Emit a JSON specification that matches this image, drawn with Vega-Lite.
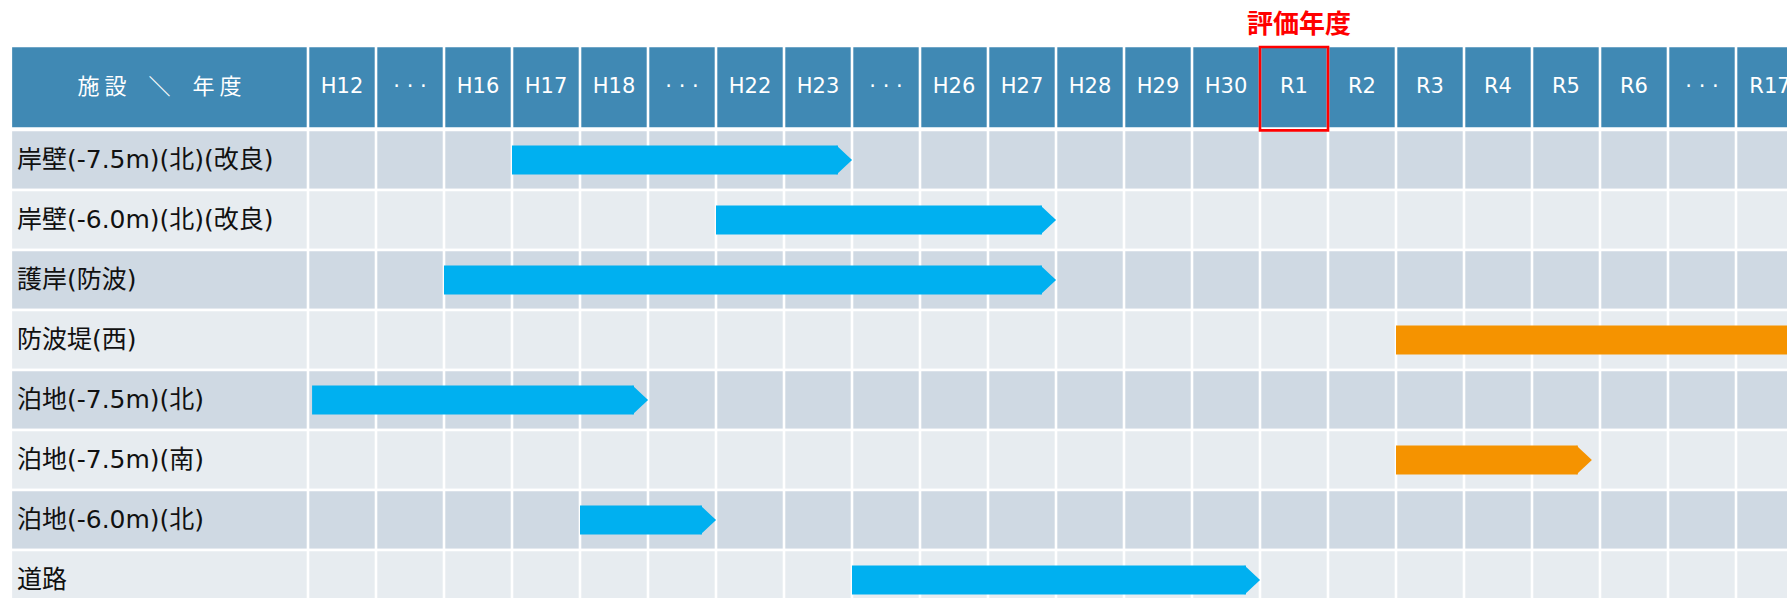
{
  "$schema": "https://vega.github.io/schema/vega-lite/v6.json",
  "width": 1787,
  "height": 598,
  "padding": 0,
  "autosize": {"type": "none"},
  "background": "#ffffff",
  "config": {"view": {"stroke": null}},
  "datasets": {
    "cols": [
      {"col": 0, "label": "H12"},
      {"col": 1, "label": "· · ·"},
      {"col": 2, "label": "H16"},
      {"col": 3, "label": "H17"},
      {"col": 4, "label": "H18"},
      {"col": 5, "label": "· · ·"},
      {"col": 6, "label": "H22"},
      {"col": 7, "label": "H23"},
      {"col": 8, "label": "· · ·"},
      {"col": 9, "label": "H26"},
      {"col": 10, "label": "H27"},
      {"col": 11, "label": "H28"},
      {"col": 12, "label": "H29"},
      {"col": 13, "label": "H30"},
      {"col": 14, "label": "R1"},
      {"col": 15, "label": "R2"},
      {"col": 16, "label": "R3"},
      {"col": 17, "label": "R4"},
      {"col": 18, "label": "R5"},
      {"col": 19, "label": "R6"},
      {"col": 20, "label": "· · ·"},
      {"col": 21, "label": "R17"}
    ],
    "rows": [
      {"row": 1, "name": "岸壁(-7.5m)(北)(改良)", "band": "odd"},
      {"row": 2, "name": "岸壁(-6.0m)(北)(改良)", "band": "even"},
      {"row": 3, "name": "護岸(防波)", "band": "odd"},
      {"row": 4, "name": "防波堤(西)", "band": "even"},
      {"row": 5, "name": "泊地(-7.5m)(北)", "band": "odd"},
      {"row": 6, "name": "泊地(-7.5m)(南)", "band": "even"},
      {"row": 7, "name": "泊地(-6.0m)(北)", "band": "odd"},
      {"row": 8, "name": "道路", "band": "even"}
    ],
    "bars": [
      {"row": 1, "start": 3, "end": 8, "kind": "done"},
      {"row": 2, "start": 6, "end": 11, "kind": "done"},
      {"row": 3, "start": 2, "end": 11, "kind": "done"},
      {"row": 4, "start": 16, "end": 22, "kind": "planned"},
      {"row": 5, "start": 0.06, "end": 5, "kind": "done"},
      {"row": 6, "start": 16, "end": 18.88, "kind": "planned"},
      {"row": 7, "start": 4, "end": 6, "kind": "done"},
      {"row": 8, "start": 8, "end": 14, "kind": "done"}
    ]
  },
  "layer": [
    {
      "data": {"values": [{"part": "header"}]},
      "mark": {"type": "rect", "fill": "#4089b4", "stroke": "#ffffff", "strokeWidth": 2.6, "clip": true},
      "encoding": {
        "x": {"datum": -4.37, "type": "quantitative", "scale": {"domain": [-4.5294, 21.75], "nice": false, "zero": false}, "axis": null},
        "x2": {"datum": 22},
        "y": {"datum": -0.9, "type": "quantitative", "scale": {"domain": [-1.6667, 8.3], "reverse": true, "nice": false, "zero": false}, "axis": null},
        "y2": {"datum": 0.477}
      }
    },
    {
      "data": {"name": "rows"},
      "mark": {"type": "rect", "stroke": "#ffffff", "strokeWidth": 2.6, "yOffset": -30, "y2Offset": 30, "clip": true},
      "encoding": {
        "x": {"datum": -4.37, "type": "quantitative", "scale": {"domain": [-4.5294, 21.75], "nice": false, "zero": false}, "axis": null},
        "x2": {"datum": 22},
        "y": {"field": "row", "type": "quantitative", "scale": {"domain": [-1.6667, 8.3], "reverse": true, "nice": false, "zero": false}, "axis": null},
        "y2": {"field": "row"},
        "fill": {"field": "band", "type": "nominal", "scale": {"domain": ["odd", "even"], "range": ["#cfd9e3", "#e7ecf0"]}, "legend": null}
      }
    },
    {
      "data": {"name": "cols"},
      "mark": {"type": "rule", "color": "#ffffff", "strokeWidth": 2.6, "clip": true},
      "encoding": {
        "x": {"field": "col", "type": "quantitative", "scale": {"domain": [-4.5294, 21.75], "nice": false, "zero": false}, "axis": null},
        "y": {"datum": -0.95, "type": "quantitative", "scale": {"domain": [-1.6667, 8.3], "reverse": true, "nice": false, "zero": false}, "axis": null},
        "y2": {"datum": 8.6}
      }
    },
    {
      "data": {"name": "bars"},
      "mark": {"type": "rect", "yOffset": -14.5, "y2Offset": 14.5, "x2Offset": -14, "clip": true},
      "encoding": {
        "x": {"field": "start", "type": "quantitative", "scale": {"domain": [-4.5294, 21.75], "nice": false, "zero": false}, "axis": null},
        "x2": {"field": "end"},
        "y": {"field": "row", "type": "quantitative", "scale": {"domain": [-1.6667, 8.3], "reverse": true, "nice": false, "zero": false}, "axis": null},
        "y2": {"field": "row"},
        "color": {"field": "kind", "type": "nominal", "scale": {"domain": ["done", "planned"], "range": ["#00b0f0", "#f59300"]}, "legend": null}
      }
    },
    {
      "data": {"name": "bars"},
      "mark": {"type": "point", "shape": "M-0.1,-1L0.97,0L-0.1,1Z", "size": 841, "filled": true, "opacity": 1, "xOffset": -14, "clip": true},
      "encoding": {
        "x": {"field": "end", "type": "quantitative", "scale": {"domain": [-4.5294, 21.75], "nice": false, "zero": false}, "axis": null},
        "y": {"field": "row", "type": "quantitative", "scale": {"domain": [-1.6667, 8.3], "reverse": true, "nice": false, "zero": false}, "axis": null},
        "color": {"field": "kind", "type": "nominal", "scale": {"domain": ["done", "planned"], "range": ["#00b0f0", "#f59300"]}, "legend": null}
      }
    },
    {
      "data": {"name": "rows"},
      "mark": {"type": "text", "align": "left", "baseline": "middle", "fontSize": 25, "font": "DejaVu Sans, Noto Sans CJK JP", "color": "#111111"},
      "encoding": {
        "x": {"datum": -4.28, "type": "quantitative", "scale": {"domain": [-4.5294, 21.75], "nice": false, "zero": false}, "axis": null},
        "y": {"field": "row", "type": "quantitative", "scale": {"domain": [-1.6667, 8.3], "reverse": true, "nice": false, "zero": false}, "axis": null},
        "text": {"field": "name"}
      }
    },
    {
      "data": {"name": "cols"},
      "mark": {"type": "text", "align": "center", "baseline": "middle", "fontSize": 21, "font": "DejaVu Sans", "color": "#ffffff", "dx": 34, "clip": true},
      "encoding": {
        "x": {"field": "col", "type": "quantitative", "scale": {"domain": [-4.5294, 21.75], "nice": false, "zero": false}, "axis": null},
        "y": {"datum": -0.2117, "type": "quantitative", "scale": {"domain": [-1.6667, 8.3], "reverse": true, "nice": false, "zero": false}, "axis": null},
        "text": {"field": "label"}
      }
    },
    {
      "data": {"values": [{"t": "施 設　＼　年 度"}]},
      "mark": {"type": "text", "align": "center", "baseline": "middle", "fontSize": 22, "font": "Noto Sans CJK JP", "color": "#ffffff"},
      "encoding": {
        "x": {"datum": -2.184, "type": "quantitative", "scale": {"domain": [-4.5294, 21.75], "nice": false, "zero": false}, "axis": null},
        "y": {"datum": -0.2117, "type": "quantitative", "scale": {"domain": [-1.6667, 8.3], "reverse": true, "nice": false, "zero": false}, "axis": null},
        "text": {"field": "t"}
      }
    },
    {
      "data": {"values": [{"part": "eval"}]},
      "mark": {"type": "rect", "fill": "#ffffff", "fillOpacity": 0, "stroke": "#ff0000", "strokeWidth": 2.6},
      "encoding": {
        "x": {"datum": 14, "type": "quantitative", "scale": {"domain": [-4.5294, 21.75], "nice": false, "zero": false}, "axis": null},
        "x2": {"datum": 15},
        "y": {"datum": -0.883, "type": "quantitative", "scale": {"domain": [-1.6667, 8.3], "reverse": true, "nice": false, "zero": false}, "axis": null},
        "y2": {"datum": 0.507}
      }
    },
    {
      "data": {"values": [{"t": "評価年度"}]},
      "mark": {"type": "text", "align": "center", "baseline": "middle", "fontSize": 26, "fontWeight": "bold", "font": "Noto Sans CJK JP", "color": "#ff0000", "dx": 5},
      "encoding": {
        "x": {"datum": 14.5, "type": "quantitative", "scale": {"domain": [-4.5294, 21.75], "nice": false, "zero": false}, "axis": null},
        "y": {"datum": -1.25, "type": "quantitative", "scale": {"domain": [-1.6667, 8.3], "reverse": true, "nice": false, "zero": false}, "axis": null},
        "text": {"field": "t"}
      }
    }
  ]
}
